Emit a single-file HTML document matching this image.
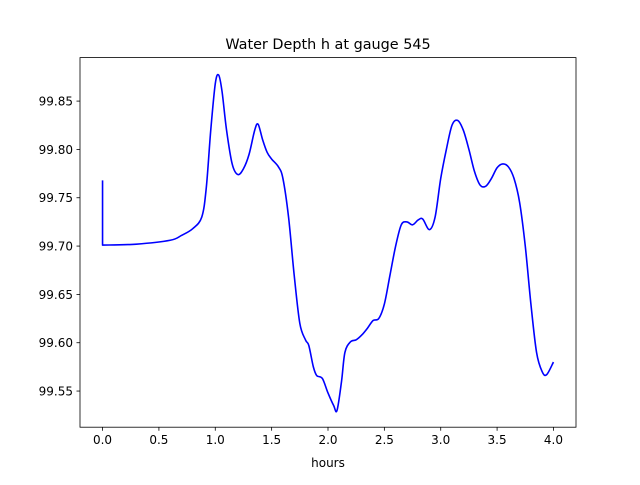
<!DOCTYPE html>
<html><head><meta charset="utf-8"><style>body{margin:0;background:#fff}svg{font-family:"DejaVu Sans","Liberation Sans",sans-serif}</style></head>
<body>
<svg id="chart" width="640" height="480">
<rect width="640" height="480" fill="#fff"/>
<text x="328" y="49" font-size="14.4" text-anchor="middle">Water Depth h at gauge 545</text>
<text x="328" y="467" font-size="12" text-anchor="middle">hours</text>
<g id="ticks"></g>
<path id="line" fill="none" stroke="#0000ff" stroke-width="1.6" stroke-linejoin="round"/>
<rect x="80" y="57.6" width="496" height="369.6" fill="none" stroke="#000" stroke-width="0.8"/>
</svg>
<script>
const times=[0,0,0.3,0.6,0.7,0.8,0.88,0.92,0.96,1.0,1.03,1.06,1.1,1.15,1.2,1.25,1.3,1.35,1.38,1.42,1.46,1.5,1.56,1.6,1.65,1.7,1.75,1.8,1.83,1.87,1.9,1.95,2.0,2.05,2.08,2.12,2.15,2.2,2.25,2.3,2.35,2.4,2.45,2.5,2.55,2.6,2.65,2.7,2.75,2.8,2.84,2.9,2.95,3.0,3.05,3.1,3.15,3.2,3.25,3.3,3.35,3.4,3.45,3.5,3.55,3.6,3.65,3.7,3.75,3.8,3.85,3.9,3.94,4.0];
const depths=[99.768,99.701,99.702,99.706,99.711,99.718,99.730,99.76,99.82,99.868,99.877,99.86,99.82,99.785,99.774,99.78,99.795,99.82,99.826,99.81,99.797,99.79,99.782,99.77,99.73,99.67,99.62,99.603,99.597,99.575,99.566,99.563,99.548,99.535,99.53,99.56,99.59,99.601,99.603,99.608,99.615,99.623,99.625,99.64,99.67,99.70,99.722,99.725,99.722,99.727,99.728,99.717,99.73,99.77,99.80,99.825,99.83,99.82,99.80,99.777,99.763,99.762,99.77,99.781,99.785,99.782,99.77,99.745,99.70,99.64,99.59,99.57,99.567,99.58];
const xTicks=[0,0.5,1,1.5,2,2.5,3,3.5,4];
const xTickLabels=["0.0","0.5","1.0","1.5","2.0","2.5","3.0","3.5","4.0"];
const yTicks=[99.55,99.6,99.65,99.7,99.75,99.8,99.85];
const yTickLabels=["99.55","99.60","99.65","99.70","99.75","99.80","99.85"];
const X0=80,X1=576,Y0=427.2,Y1=57.6,xmin=-0.2,xmax=4.2,ymin=99.5126,ymax=99.895;
const sx=v=>X0+(v-xmin)/(xmax-xmin)*(X1-X0);
const sy=v=>Y0-(v-ymin)/(ymax-ymin)*(Y0-Y1);
const NS="http://www.w3.org/2000/svg",g=document.getElementById('ticks');
function mk(t,a){const e=document.createElementNS(NS,t);for(const k in a)e.setAttribute(k,a[k]);g.appendChild(e);return e;}
xTicks.forEach((v,i)=>{const x=sx(v);
const l=mk('line',{x1:x,x2:x,y1:Y0,y2:Y0+3.5,stroke:'#000','stroke-width':0.8});


const t=mk('text',{x:x,y:Y0+17,'font-size':12,'text-anchor':'middle'});t.textContent=xTickLabels[i];

});
yTicks.forEach((v,i)=>{const y=sy(v);
const l=mk('line',{x1:X0-3.5,x2:X0,y1:y,y2:y,stroke:'#000','stroke-width':0.8});


const t=mk('text',{x:X0-7,y:y+4.5,'font-size':12,'text-anchor':'end'});t.textContent=yTickLabels[i];

});
// smooth path: first vertical segment straight, rest Catmull-Rom
const P=times.map((t,i)=>[sx(t),sy(depths[i])]);
let d='M'+P[0][0].toFixed(2)+' '+P[0][1].toFixed(2)+' L'+P[1][0].toFixed(2)+' '+P[1][1].toFixed(2);
for(let i=1;i<P.length-1;i++){
  const p0=P[Math.max(1,i-1)],p1=P[i],p2=P[i+1],p3=P[Math.min(P.length-1,i+2)];
  const c1=[p1[0]+(p2[0]-p0[0])/6,p1[1]+(p2[1]-p0[1])/6];
  const c2=[p2[0]-(p3[0]-p1[0])/6,p2[1]-(p3[1]-p1[1])/6];
  d+=' C'+c1.map(v=>v.toFixed(2)).join(' ')+' '+c2.map(v=>v.toFixed(2)).join(' ')+' '+p2.map(v=>v.toFixed(2)).join(' ');
}
document.getElementById('line').setAttribute('d',d);
</script>
</body></html>
